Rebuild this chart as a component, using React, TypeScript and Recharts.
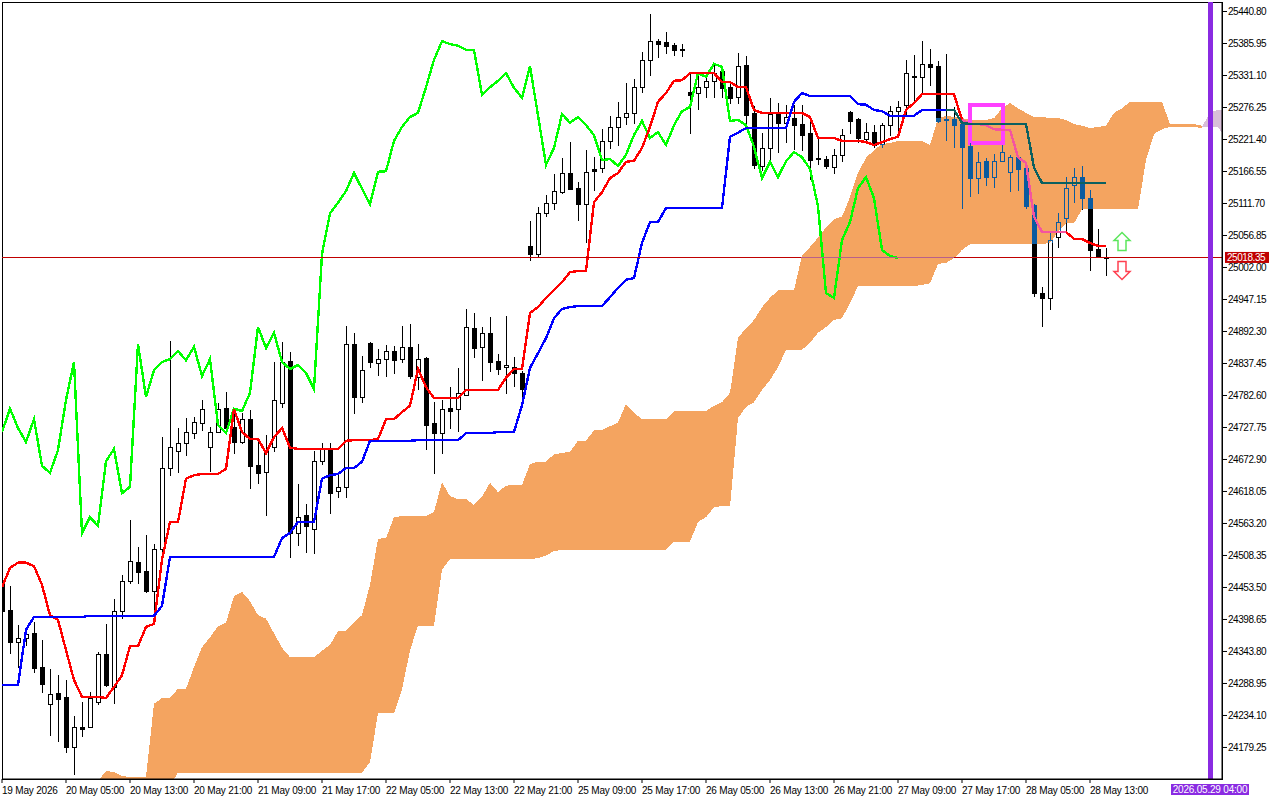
import React from 'react';
import {
  Area,
  Bar,
  ComposedChart,
  Line,
  ReferenceArea,
  ReferenceDot,
  ReferenceLine,
  XAxis,
  YAxis,
} from 'recharts';

// hourly candles, index 0 is 19 May 21:00
const open = [
  24466,24415,24360,24367,24375,24317,24254,24273,24266,24180,
  24214,24214,24257,24340,24283,24413,24465,24497,24482,24447,
  24519,24658,24687,24701,24718,24736,24694,24720,24761,24729,
  24703,24742,24663,24651,24694,24770,24842,24547,24578,24554,
  24670,24691,24619,24626,24871,24780,24873,24838,24845,24859,
  24845,24866,24814,24847,24735,24718,24761,24760,24783,24898,
  24866,24890,24842,24831,24831,24821,25039,25025,25095,25113,
  25131,25164,25138,25111,25171,25172,25219,25243,25260,25267,
  25311,25358,25390,25389,25383,25377,25303,25301,25311,25322,
  25339,25311,25294,25349,25267,25176,25207,25265,25250,25258,
  25248,25232,25190,25188,25174,25195,25269,25257,25222,25234,
  25214,25246,25270,25280,25330,25329,25351,25347,25256,25257,
  25248,25210,25155,25184,25157,25184,25166,25191,25172,25109,
  24958,24950,25054,25087,25143,25157,25121,25034,25020,
];
const high = [
  24475,24456,24389,24384,24394,24363,24314,24303,24295,24233,
  24257,24274,24343,24391,24434,24475,24569,24523,24544,24528,
  24711,24876,24727,24744,24746,24775,24729,24770,24789,24760,
  24753,24758,24706,24715,24840,24874,24857,24631,24597,24687,
  24701,24701,24646,24902,24890,24850,24874,24862,24869,24867,
  24902,24905,24871,24848,24771,24775,24797,24830,24931,24924,
  24900,24917,24854,24919,24849,24825,25082,25106,25126,25162,
  25190,25217,25149,25203,25191,25239,25262,25286,25318,25325,
  25371,25437,25394,25406,25387,25385,25335,25335,25335,25349,
  25347,25318,25370,25364,25279,25232,25292,25284,25280,25280,
  25280,25260,25224,25193,25205,25239,25270,25258,25250,25246,
  25250,25279,25287,25358,25366,25390,25376,25356,25368,25277,
  25258,25215,25200,25190,25197,25212,25195,25193,25174,25110,
  24969,25061,25095,25157,25172,25176,25135,25068,25035,
];
const low = [
  24406,24341,24317,24355,24309,24274,24201,24190,24172,24134,
  24199,24214,24254,24285,24255,24401,24461,24461,24446,24415,
  24495,24646,24651,24681,24710,24724,24653,24720,24718,24684,
  24701,24624,24633,24578,24687,24763,24506,24526,24514,24513,
  24665,24581,24609,24609,24753,24771,24831,24818,24816,24821,
  24840,24813,24794,24691,24650,24684,24727,24722,24783,24849,
  24809,24825,24819,24787,24799,24768,25015,25022,25090,25102,
  25130,25136,25083,25046,25135,25166,25207,25212,25248,25250,
  25303,25332,25363,25370,25366,25365,25232,25274,25294,25294,
  25294,25284,25284,25243,25172,25169,25186,25200,25217,25205,
  25203,25154,25179,25172,25164,25185,25232,25217,25217,25209,
  25209,25229,25226,25263,25287,25301,25315,25251,25221,25209,
  25104,25125,25130,25143,25140,25184,25133,25135,25104,24953,
  24902,24931,25037,25063,25114,25102,24998,25021,24989,
];
const close = [
  24413,24360,24367,24374,24315,24288,24271,24262,24180,24214,
  24211,24264,24340,24286,24413,24465,24499,24480,24447,24519,
  24658,24694,24701,24720,24737,24760,24720,24760,24727,24703,
  24742,24662,24650,24689,24775,24840,24547,24574,24559,24670,
  24691,24615,24626,24871,24780,24826,24840,24845,24859,24843,
  24866,24816,24845,24732,24718,24760,24756,24787,24900,24864,
  24890,24840,24828,24835,24821,24794,25025,25095,25113,25133,
  25164,25137,25111,25166,25167,25219,25243,25260,25267,25311,
  25358,25390,25385,25382,25375,25375,25298,25311,25322,25335,
  25310,25293,25347,25263,25178,25207,25265,25250,25260,25246,
  25229,25186,25188,25176,25195,25229,25253,25224,25234,25212,
  25246,25270,25277,25335,25329,25351,25346,25253,25255,25246,
  25209,25155,25183,25157,25184,25200,25191,25171,25107,24958,
  24950,25049,25080,25138,25157,25121,25032,25022,25018.35,
];

const tenkan = [
  24454,24487,24496,24496,24490,24458,24406,24398,24346,24295,
  24266,24266,24266,24264,24283,24303,24353,24353,24386,24391,
  24501,24566,24566,24640,24646,24648,24648,24648,24657,24759,
  24720,24708,24708,24684,24711,24727,24693,24691,24691,24691,
  24691,24691,24691,24705,24706,24706,24706,24708,24742,24742,
  24754,24765,24828,24797,24778,24778,24778,24778,24792,24792,
  24792,24792,24792,24813,24828,24828,24924,24934,24950,24963,
  24977,24994,24996,24996,25114,25131,25155,25164,25183,25185,
  25207,25243,25286,25301,25322,25323,25335,25335,25335,25335,
  25320,25320,25311,25311,25272,25267,25267,25267,25267,25267,
  25267,25260,25224,25224,25224,25219,25219,25219,25217,25212,
  25217,25222,25226,25272,25284,25299,25299,25299,25299,25299,
  25255,25248,25248,25246,25239,25238,25238,25191,25181,25089,
  25063,25063,25063,25063,25051,25051,25044,25039,25039,
];
const kijun = [
  24286,24286,24286,24381,24403,24403,24403,24403,24403,24403,
  24403,24405,24405,24405,24405,24405,24405,24405,24405,24405,
  24422,24506,24506,24506,24506,24506,24506,24506,24506,24506,
  24506,24506,24506,24506,24506,24538,24547,24566,24566,24566,
  24640,24646,24648,24658,24658,24669,24705,24705,24705,24705,
  24705,24705,24706,24706,24706,24706,24706,24706,24718,24718,
  24718,24718,24720,24720,24720,24766,24830,24855,24881,24915,
  24931,24934,24936,24936,24936,24936,24951,24967,24981,24984,
  25044,25080,25080,25104,25104,25104,25104,25104,25104,25104,
  25104,25226,25233,25241,25241,25241,25241,25241,25241,25286,
  25301,25296,25296,25296,25296,25296,25296,25282,25281,25272,
  25270,25262,25262,25262,25262,25272,25272,25272,25272,25272,
  25250,25248,25248,25248,25248,25248,25248,25248,25248,25173,
  25147,25147,25147,25147,25147,25147,25147,25147,25147,
];
// lagging line: the closes moved back 26 bars
const chikou = close.slice(26);

// cloud edges, bars 12 to 150
const cloudStart = 12;
const cloudTop = [
  24122,24139,24137,24130,24129,24129,24129,24254,
  24264,24264,24280,24280,24317,24351,24368,24387,24393,24439,
  24446,24430,24406,24400,24375,24350,24334,24334,24334,24334,
  24345,24355,24379,24379,24394,24406,24458,24537,24538,24574,
  24576,24576,24576,24576,24583,24634,24610,24605,24605,24595,
  24609,24633,24617,24628,24629,24629,24665,24669,24669,24682,
  24684,24686,24705,24705,24723,24723,24730,24736,24768,24753,
  24742,24742,24742,24742,24756,24756,24756,24756,24756,24765,
  24771,24787,24881,24898,24912,24934,24950,24963,24963,24963,
  25023,25037,25053,25071,25085,25089,25123,25164,25190,25203,
  25214,25215,25219,25219,25219,25219,25212,25258,25262,25260,
  25258,25255,25255,25255,25258,25275,25284,25275,25267,25260,
  25260,25258,25258,25255,25248,25245,25241,25243,25245,25267,
  25275,25286,25286,25286,25286,25286,25248,25248,25248,25248,25245,
];
const cloudBottom = [
  24115,24115,24115,24115,24115,24115,24115,24115,
  24115,24115,24136,24136,24136,24136,24136,24136,24136,24136,
  24136,24136,24136,24136,24136,24136,24136,24136,24136,24136,
  24136,24136,24136,24136,24136,24136,24154,24238,24238,24238,
  24278,24346,24388,24388,24388,24484,24502,24502,24502,24502,
  24502,24502,24502,24502,24502,24502,24502,24504,24508,24516,
  24518,24518,24518,24518,24518,24518,24518,24518,24518,24518,
  24518,24518,24518,24518,24532,24532,24532,24566,24574,24591,
  24593,24593,24744,24763,24771,24792,24809,24831,24861,24861,
  24861,24873,24890,24900,24912,24915,24941,24970,24970,24970,
  24970,24970,24970,24970,24970,24972,24975,25008,25010,25018,
  25032,25042,25042,25042,25042,25042,25042,25042,25042,25042,
  25042,25044,25063,25078,25078,25102,25102,25102,25102,25102,
  25102,25102,25102,25186,25231,25239,25243,25243,25243,25243,25241,
];
// faded part of the cloud behind the purple line, bars 150 to 153
const fadedStart = 150;
const fadedTop = [25243, 25268, 25272, 25272];
const fadedBottom = [25243, 25243, 25243, 25222];

const priceTicks = [
  25440.8, 25385.95, 25331.1, 25276.25, 25221.4, 25166.55, 25111.7, 25056.85,
  25002, 24947.15, 24892.3, 24837.45, 24782.6, 24727.75, 24672.9, 24618.05,
  24563.2, 24508.35, 24453.5, 24398.65, 24343.8, 24288.95, 24234.1, 24179.25,
];
const dateLabels = [
  '19 May 2026', '20 May 05:00', '20 May 13:00', '20 May 21:00', '21 May 09:00',
  '21 May 17:00', '22 May 05:00', '22 May 13:00', '22 May 21:00', '25 May 09:00',
  '25 May 17:00', '26 May 05:00', '26 May 13:00', '26 May 21:00', '27 May 09:00',
  '27 May 17:00', '28 May 05:00', '28 May 13:00',
];
const dateTicks = dateLabels.map((_, n) => n * 8);

const lastPrice = 25018.35;
const futureBar = 151;
const futureLabel = '2026.05.29 04:00';

const FONT = '"Liberation Sans", Arial, sans-serif';
const CLOUD_COLOR = '#F4A460';
const INVERTED = '#0B5B9F'; // black drawn over the cloud comes out like this

const rows: any[] = [];
for (let i = 0; i <= 153; i++) {
  const c = i - cloudStart;
  const f = i - fadedStart;
  rows.push({
    i,
    open: open[i],
    high: high[i],
    low: low[i],
    close: close[i],
    tenkanRed: i <= 120 || i >= 133 ? tenkan[i] : undefined,
    tenkanPink: i >= 120 && i <= 133 ? tenkan[i] : undefined,
    kijunBlue: i <= 118 ? kijun[i] : undefined,
    kijunTeal: i >= 118 && i <= 138 ? kijun[i] : undefined,
    chikou: chikou[i],
    cloud: c >= 0 && c < cloudTop.length ? [cloudBottom[c], cloudTop[c]] : undefined,
    faded: f >= 0 ? [fadedBottom[f], fadedTop[f]] : undefined,
  });
}

const Candle = (props: any) => {
  const { x, y, width, height, payload: d } = props;
  if (d.high == null) return null;
  const k = height / (d.high - d.low);
  const toY = (p: number) => Math.round(y + (d.high - p) * k);
  const cx = Math.round(x + width / 2);
  const bodyTop = toY(Math.max(d.open, d.close));
  const bodyBottom = toY(Math.min(d.open, d.close));
  const cloudY = d.cloud ? [toY(d.cloud[1]), toY(d.cloud[0])] : null;

  const parts: React.ReactNode[] = [];
  // black piece, recoloured where it lies over the cloud
  const piece = (px: number, w: number, y1: number, y2: number) => {
    if (y2 <= y1) return;
    parts.push(<rect key={parts.length} x={px} y={y1} width={w} height={y2 - y1} fill="#000" />);
    if (cloudY) {
      const a = Math.max(y1, cloudY[0]);
      const b = Math.min(y2, cloudY[1]);
      if (b > a) parts.push(<rect key={parts.length} x={px} y={a} width={w} height={b - a} fill={INVERTED} />);
    }
  };

  piece(cx, 1, toY(d.high), bodyTop);
  piece(cx, 1, bodyBottom + 1, toY(d.low) + 1);
  if (d.close >= d.open && bodyBottom - bodyTop > 1) {
    piece(cx - 2, 5, bodyTop, bodyTop + 1);
    piece(cx - 2, 5, bodyBottom, bodyBottom + 1);
    piece(cx - 2, 1, bodyTop + 1, bodyBottom);
    piece(cx + 2, 1, bodyTop + 1, bodyBottom);
  } else {
    piece(cx - 2, 5, bodyTop, bodyBottom + 1);
  }
  return <g shapeRendering="crispEdges">{parts}</g>;
};

const DateTick = ({ x, y, payload }: any) => (
  <text x={x} y={y + 9} textAnchor="start" fontSize={10} letterSpacing={-0.2} fontFamily={FONT} fill="#000">
    {dateLabels[payload.value / 8]}
  </text>
);

const PriceTag = ({ viewBox }: any) => (
  <g>
    <rect x={1225} y={viewBox.y - 6} width={44} height={11} fill="#C00000" />
    <text x={1227} y={viewBox.y + 3} fontSize={10} letterSpacing={-0.45} fontFamily={FONT} fill="#fff">
      {lastPrice.toFixed(2)}
    </text>
  </g>
);

const FutureTag = ({ viewBox }: any) => (
  <g>
    <rect x={viewBox.x - 39} y={784} width={78} height={11} fill="#8A2BE2" />
    <text x={viewBox.x} y={793} textAnchor="middle" fontSize={10} letterSpacing={-0.2} fontFamily={FONT} fill="#fff">
      {futureLabel}
    </text>
  </g>
);

const UpArrow = ({ cx, cy }: any) => (
  <polygon
    points={`${cx},${cy - 9} ${cx + 8},${cy - 1} ${cx + 4},${cy - 1} ${cx + 4},${cy + 9} ${cx - 4},${cy + 9} ${cx - 4},${cy - 1} ${cx - 8},${cy - 1}`}
    fill="#fff"
    stroke="#5CE65C"
    strokeWidth={1.5}
  />
);

const DownArrow = ({ cx, cy }: any) => (
  <polygon
    points={`${cx},${cy + 9} ${cx + 8},${cy + 1} ${cx + 4},${cy + 1} ${cx + 4},${cy - 9} ${cx - 4},${cy - 9} ${cx - 4},${cy + 1} ${cx - 8},${cy + 1}`}
    fill="#fff"
    stroke="#FF4050"
    strokeWidth={1.5}
  />
);

const lineProps: any = {
  type: 'linear',
  strokeWidth: 2.4,
  dot: false,
  activeDot: false,
  isAnimationActive: false,
  shapeRendering: 'crispEdges',
};

export default function App() {
  return (
    <div style={{ position: 'absolute', left: 0, top: 0, width: 1280, height: 800, background: '#fff' }}>
      <ComposedChart
        width={1280}
        height={800}
        data={rows}
        margin={{ top: 2, right: 0, bottom: 0, left: 2 }}
      >
        <XAxis
          dataKey="i"
          type="number"
          scale="linear"
          domain={[0, 152.5]}
          allowDataOverflow
          ticks={dateTicks}
          interval={0}
          height={21}
          tickSize={4}
          stroke="#000"
          tick={<DateTick />}
        />
        <YAxis
          orientation="right"
          type="number"
          domain={[24125.2, 25457.1]}
          allowDataOverflow
          ticks={priceTicks}
          interval={0}
          width={58}
          tickSize={5}
          tickMargin={1}
          stroke="#000"
          tickFormatter={(v: number) => v.toFixed(2)}
          tick={{ fontSize: 10, letterSpacing: -0.45, fontFamily: FONT, fill: '#000' }}
        />
        <ReferenceArea x1={0} x2={152.5} y1={24125.2} y2={25457.1} fill="none" stroke="#000" shapeRendering="crispEdges" />
        <Area dataKey="cloud" type="linear" stroke="none" fill={CLOUD_COLOR} fillOpacity={1} dot={false} activeDot={false} isAnimationActive={false} shapeRendering="crispEdges" />
        <Area dataKey="faded" type="linear" stroke="none" fill="#D8BFD8" fillOpacity={1} dot={false} activeDot={false} isAnimationActive={false} shapeRendering="crispEdges" />
        <Bar
          dataKey={(d: any) => (d.high == null ? null : [d.low, d.high])}
          barSize={5}
          shape={<Candle />}
          isAnimationActive={false}
        />
        <Line dataKey="chikou" stroke="#00FF00" {...lineProps} />
        <Line dataKey="tenkanRed" stroke="#FF0000" {...lineProps} />
        <Line dataKey="tenkanPink" stroke="#F4549F" {...lineProps} />
        <Line dataKey="kijunBlue" stroke="#0000FF" {...lineProps} />
        <Line dataKey="kijunTeal" stroke="#0B6060" {...lineProps} />
        <ReferenceLine y={lastPrice} stroke="#C00000" label={<PriceTag />} shapeRendering="crispEdges" />
        <ReferenceLine
          segment={[{ x: 99.9, y: lastPrice }, { x: 119, y: lastPrice }]}
          stroke="#B8608A"
          shapeRendering="crispEdges"
        />
        <ReferenceLine x={futureBar} stroke="#8A2BE2" strokeWidth={5} label={<FutureTag />} shapeRendering="crispEdges" />
        <ReferenceArea x1={121} x2={125.1} y1={25215.4} y2={25280.5} fill="none" stroke="#FF40FF" strokeWidth={4} shapeRendering="crispEdges" />
        <ReferenceDot x={140} y={25046.5} r={0} shape={<UpArrow />} />
        <ReferenceDot x={140} y={24996.8} r={0} shape={<DownArrow />} />
      </ComposedChart>
    </div>
  );
}
